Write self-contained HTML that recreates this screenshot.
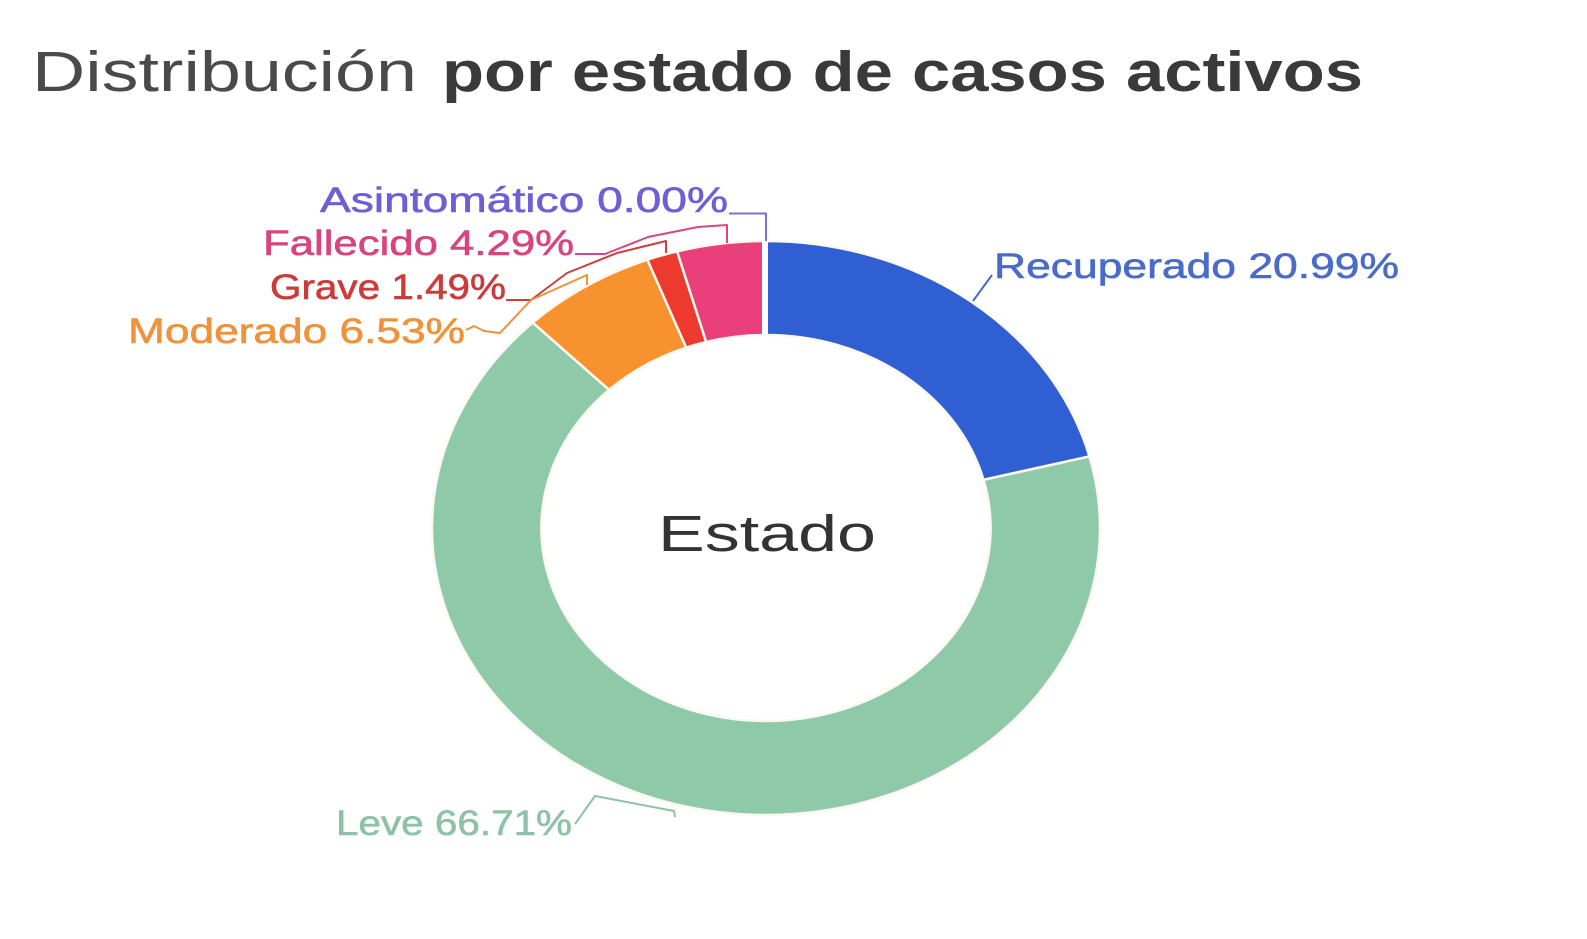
<!DOCTYPE html>
<html>
<head>
<meta charset="utf-8">
<style>
  html,body{margin:0;padding:0;background:#ffffff;}
  svg{display:block;}
  text{font-family:"Liberation Sans", sans-serif;}
</style>
</head>
<body>
<svg width="1587" height="939" viewBox="0 0 1587 939" xmlns="http://www.w3.org/2000/svg">
  <rect width="1587" height="939" fill="#ffffff"/>

  <!-- Title -->
  <text x="32" y="91" font-size="57" fill="#4a4a4a" textLength="385" lengthAdjust="spacingAndGlyphs">Distribución</text>
  <text x="442" y="91" font-size="57" font-weight="bold" fill="#3a3a3a" textLength="921" lengthAdjust="spacingAndGlyphs">por estado de casos activos</text>

  <!-- Donut -->
  <g transform="translate(766,528) scale(1.1638,1)" stroke="#fdf8ef" stroke-width="2.5" stroke-linejoin="round">
    <path vector-effect="non-scaling-stroke" fill="#2f5fd2" d="M0,-287 A287,287 0 0 1 277.92,-71.59 L186.90,-48.14 A193,193 0 0 0 0,-193 Z"/>
    <path vector-effect="non-scaling-stroke" fill="#8ecaaa" d="M277.92,-71.59 A287,287 0 1 1 -200.44,-205.41 L-134.79,-138.13 A193,193 0 1 0 186.90,-48.14 Z"/>
    <path vector-effect="non-scaling-stroke" fill="#f7922f" d="M-200.44,-205.41 A287,287 0 0 1 -101.93,-268.29 L-68.55,-180.42 A193,193 0 0 0 -134.79,-138.13 Z"/>
    <path vector-effect="non-scaling-stroke" fill="#ec3b2e" d="M-101.93,-268.29 A287,287 0 0 1 -76.40,-276.64 L-51.38,-186.03 A193,193 0 0 0 -68.55,-180.42 Z"/>
    <path vector-effect="non-scaling-stroke" fill="#e9407c" d="M-76.40,-276.64 A287,287 0 0 1 0,-287 L0,-193 A193,193 0 0 0 -51.38,-186.03 Z"/>
  </g>
  <!-- gap at top for zero-valued slice -->
  <rect x="762" y="236" width="6" height="104" fill="#ffffff"/>

  <!-- Leader lines -->
  <g fill="none" stroke-width="2" stroke-linejoin="round">
    <polyline stroke="#7b6fd6" points="729,213.5 766,213.5 766,241"/>
    <polyline stroke="#d9477f" points="575,254 605,254 648,237 698,227 727,225 727,243"/>
    <polyline stroke="#cc3d3d" points="506,300 531,300 567,273 617,253 666,241 666,253"/>
    <polyline stroke="#f0923a" points="466,330 474,326 484,331 500,333 531,300 587,275 587,285"/>
    <polyline stroke="#4a6bc7" points="992,275 973,301"/>
    <polyline stroke="#8ec2a6" points="575,824 595,796 674,811 675,817"/>
  </g>

  <!-- Labels -->
  <g font-size="35" stroke-width="0.6">
    <text x="320" y="212" fill="#6f5fd6" stroke="#6f5fd6" textLength="408" lengthAdjust="spacingAndGlyphs">Asintomático 0.00%</text>
    <text x="263" y="255" fill="#d9447e" stroke="#d9447e" textLength="311" lengthAdjust="spacingAndGlyphs">Fallecido 4.29%</text>
    <text x="270" y="299" fill="#cc3b3b" stroke="#cc3b3b" textLength="236" lengthAdjust="spacingAndGlyphs">Grave 1.49%</text>
    <text x="128" y="343" fill="#f0923a" stroke="#f0923a" textLength="337" lengthAdjust="spacingAndGlyphs">Moderado 6.53%</text>
    <text x="994" y="278" fill="#4a6bc7" stroke="#4a6bc7" textLength="405" lengthAdjust="spacingAndGlyphs">Recuperado 20.99%</text>
    <text x="336" y="835" fill="#8ec2a6" stroke="#8ec2a6" textLength="236" lengthAdjust="spacingAndGlyphs">Leve 66.71%</text>
  </g>

  <!-- Center label -->
  <text x="658" y="551" font-size="51" fill="#333333" textLength="218" lengthAdjust="spacingAndGlyphs">Estado</text>
</svg>
</body>
</html>
